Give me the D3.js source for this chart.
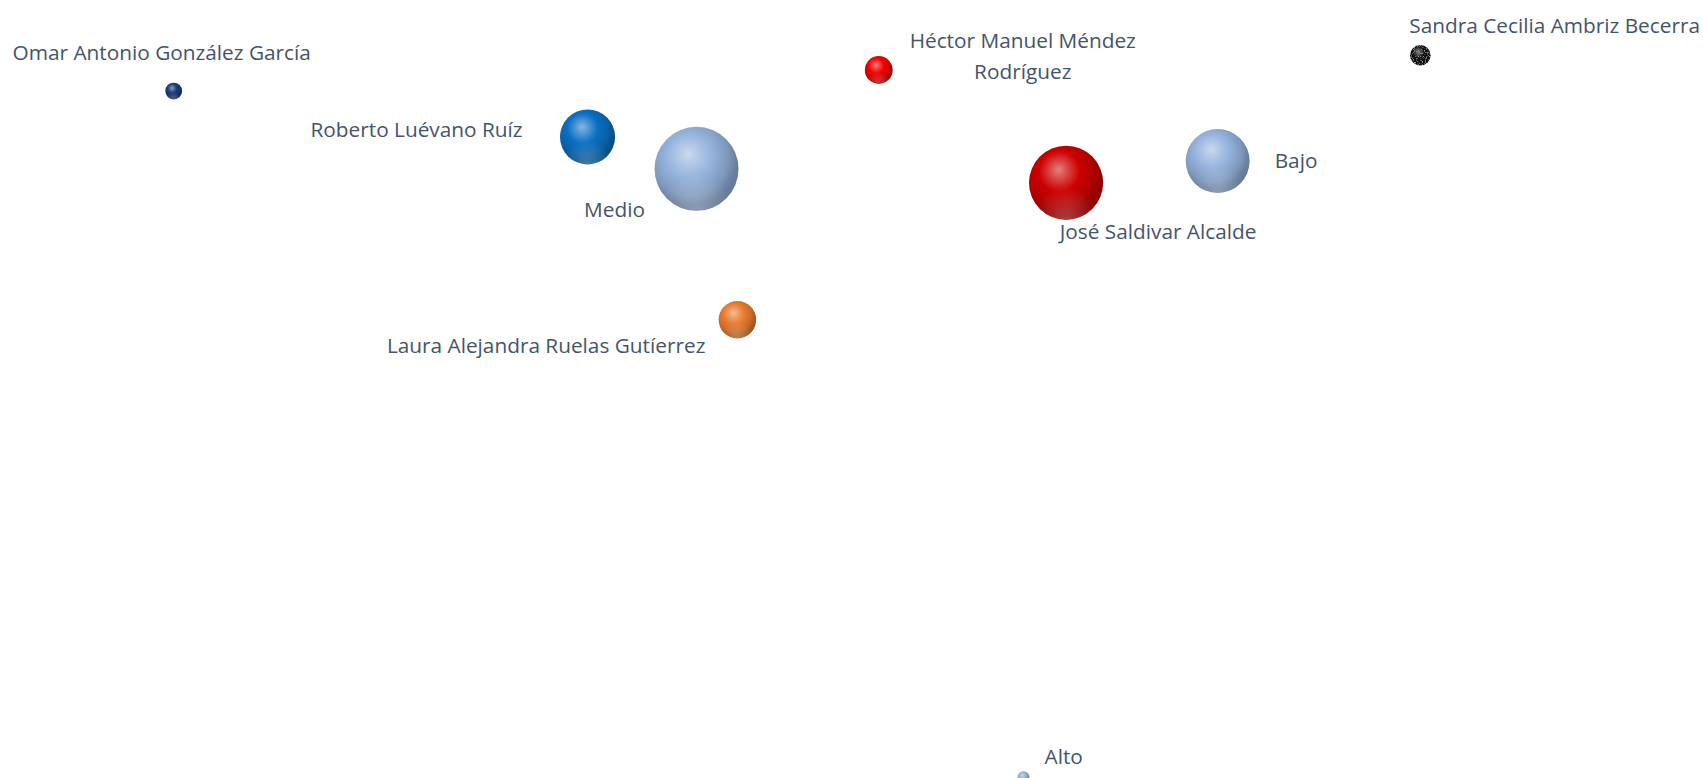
<!DOCTYPE html>
<html>
<head>
<meta charset="utf-8">
<script src="https://cdn.jsdelivr.net/npm/d3@7"></script>
<style>
  html, body { margin: 0; padding: 0; background: #fff; overflow: hidden; }
  .label { font-family: "Open Sans", sans-serif; font-size: 20.8px; fill: #44546A; }
</style>
</head>
<body>
<div id="chart"></div>
<script>
var svgWidth = 1703;
var svgHeight = 778;

// chart values (hidden axes, 0-100 on both)
var names = ["Omar Antonio González García", "Roberto Luévano Ruíz", "Medio",
  "Laura Alejandra Ruelas Gutíerrez", "Héctor Manuel Méndez Rodríguez",
  "José Saldivar Alcalde", "Bajo", "Sandra Cecilia Ambriz Becerra", "Alto"];
var xValues = [10.2, 34.5, 40.9, 43.3, 51.6, 62.6, 71.5, 83.4, 60.1];
var yValues = [88.3, 82.4, 78.3, 58.9, 91.0, 76.5, 79.3, 92.9, 0.1];
var sizes = [4, 43, 100, 20, 11, 78, 58, 6, 2];

// styling / label layout
var colors = ["#1C3978", "#0A6FC2", "#94B2DC", "#E87B2E", "#F20000",
  "#CC0000", "#94B2DC", "#111111", "#94B2DC"];
var labelAnchor = ["middle", "end", "middle", "end", "middle", "middle", "start", "start", "start"];
var labelDx = [-12, -65, -82, -32, 144, 92, 57, -11, 21];
var labelDy = [-31, 0, 48, 33, -22, 56, 7, -22, -13];
var wrapAfter = [0, 0, 0, 0, 3, 0, 0, 0, 0];
var lineHeight = 31;

var data = names.map(function(n, i) {
  return { name: n, x: xValues[i], y: yValues[i], size: sizes[i], color: colors[i], i: i };
});

var svg = d3.select("#chart")
  .append("svg")
  .attr("width", svgWidth)
  .attr("height", svgHeight);

var xScale = d3.scaleLinear().domain([0, 100]).range([0, svgWidth]);
var yScale = d3.scaleLinear().domain([0, 100]).range([svgHeight, 0]);
var rScale = d3.scaleSqrt().domain([0, 100]).range([0, 42]);

var defs = svg.append("defs");

// 3-D sphere look: soft highlight upper left, darker rim lower right
data.forEach(function(d) {
  var base = d3.color(d.color);
  var g = defs.append("radialGradient")
    .attr("id", "grad" + d.i)
    .attr("cx", "42%").attr("cy", "38%").attr("r", "66%")
    .attr("fx", "40%").attr("fy", "32%");
  var hi = d3.interpolateRgb(base, "#ffffff");
  var stops = [
    [0, hi(0.5)],
    [0.18, hi(0.28)],
    [0.42, base.toString()],
    [0.7, base.darker(0.45).toString()],
    [0.85, base.darker(0.95).toString()],
    [1, base.darker(1.15).toString()]
  ];
  stops.forEach(function(s) {
    g.append("stop").attr("offset", s[0]).attr("stop-color", s[1]);
  });
});

// faint reflected light along the bottom edge
var refl = defs.append("radialGradient")
  .attr("id", "reflect")
  .attr("cx", "50%").attr("cy", "100%").attr("r", "45%");
refl.append("stop").attr("offset", 0).attr("stop-color", "#ffffff").attr("stop-opacity", 0.25);
refl.append("stop").attr("offset", 1).attr("stop-color", "#ffffff").attr("stop-opacity", 0);

// speckled texture for the black bubble
var noise = defs.append("filter").attr("id", "speckle");
noise.append("feTurbulence")
  .attr("type", "fractalNoise")
  .attr("baseFrequency", 0.9)
  .attr("numOctaves", 2)
  .attr("result", "noise");
noise.append("feColorMatrix")
  .attr("in", "noise")
  .attr("type", "matrix")
  .attr("values", "0 0 0 0 0.45  0 0 0 0 0.45  0 0 0 0 0.45  3 0 0 0 -1.6")
  .attr("result", "spots");
noise.append("feComposite")
  .attr("in", "spots").attr("in2", "SourceGraphic")
  .attr("operator", "in").attr("result", "clipped");
noise.append("feMerge").call(function(m) {
  m.append("feMergeNode").attr("in", "SourceGraphic");
  m.append("feMergeNode").attr("in", "clipped");
});

// bubbles, largest first so small ones stay on top
var sorted = data.slice().sort(function(a, b) { return b.size - a.size; });

var bubbles = svg.selectAll(".bubble")
  .data(sorted)
  .enter()
  .append("g")
  .attr("class", "bubble");

bubbles.append("circle")
  .attr("cx", d => xScale(d.x))
  .attr("cy", d => yScale(d.y))
  .attr("r", d => rScale(d.size))
  .attr("fill", d => "url(#grad" + d.i + ")")
  .attr("filter", d => d.i === 7 ? "url(#speckle)" : null);

bubbles.filter(d => d.i !== 7).append("circle")
  .attr("cx", d => xScale(d.x))
  .attr("cy", d => yScale(d.y))
  .attr("r", d => rScale(d.size))
  .attr("fill", "url(#reflect)");

// data labels
var labels = svg.selectAll(".label")
  .data(data)
  .enter()
  .append("text")
  .attr("class", "label")
  .attr("text-anchor", d => labelAnchor[d.i])
  .attr("x", d => xScale(d.x) + labelDx[d.i])
  .attr("y", d => yScale(d.y) + labelDy[d.i]);

labels.each(function(d) {
  var words = d.name.split(" ");
  var lines = wrapAfter[d.i] ? [words.slice(0, wrapAfter[d.i]).join(" "), words.slice(wrapAfter[d.i]).join(" ")] : [d.name];
  var t = d3.select(this);
  lines.forEach(function(line, k) {
    t.append("tspan")
      .attr("x", xScale(d.x) + labelDx[d.i])
      .attr("dy", k === 0 ? 0 : lineHeight)
      .text(line);
  });
});
</script>
</body>
</html>
